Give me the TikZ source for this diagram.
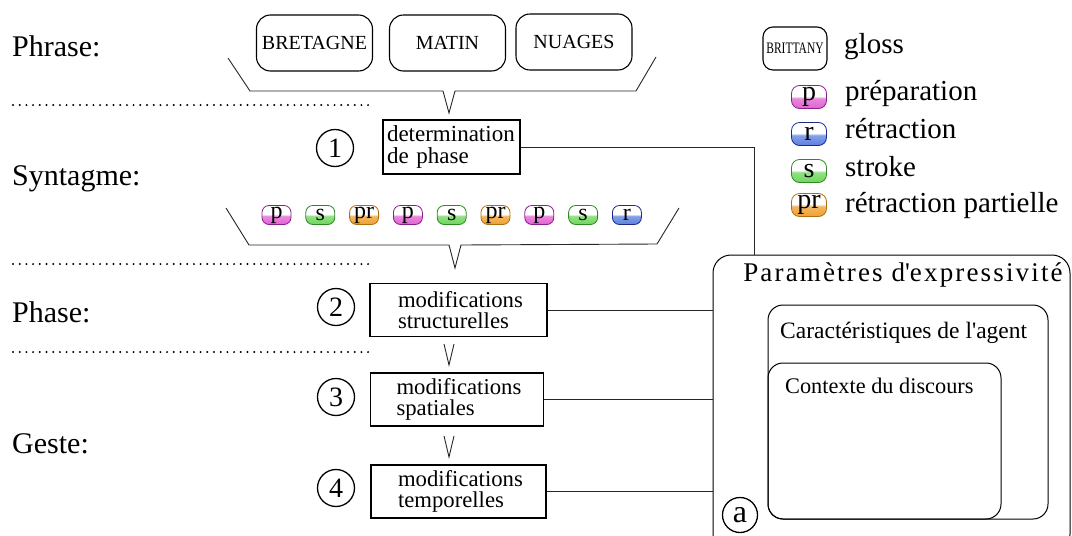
\documentclass[tikz,border=0pt]{standalone}
\usepackage{fontspec}
\setmainfont{Liberation Serif}
\usetikzlibrary{positioning}
\definecolor{prep}{HTML}{E262D2}
\definecolor{prepborder}{HTML}{8A1E8A}
\definecolor{retr}{HTML}{5C80E0}
\definecolor{retrborder}{HTML}{1E2A8A}
\definecolor{strk}{HTML}{6ED65C}
\definecolor{strkborder}{HTML}{2E8A22}
\definecolor{part}{HTML}{EEA030}
\definecolor{partborder}{HTML}{B06E10}
\pgfdeclareverticalshading{ombreprep}{100bp}{color(0bp)=(prep); color(25bp)=(prep); color(47bp)=(prep!75!white); color(52bp)=(white); color(100bp)=(white)}
\pgfdeclareverticalshading{ombreretr}{100bp}{color(0bp)=(retr); color(25bp)=(retr); color(47bp)=(retr!75!white); color(52bp)=(white); color(100bp)=(white)}
\pgfdeclareverticalshading{ombrestrk}{100bp}{color(0bp)=(strk); color(25bp)=(strk); color(47bp)=(strk!75!white); color(52bp)=(white); color(100bp)=(white)}
\pgfdeclareverticalshading{ombrepart}{100bp}{color(0bp)=(part); color(25bp)=(part); color(47bp)=(part!75!white); color(52bp)=(white); color(100bp)=(white)}

\begin{document}
\begin{tikzpicture}[
    x=1pt, y=-1pt,
    trait/.style={draw=black!85, line width=0.9pt},
    lbl/.style={font=\fontsize{30}{30}\selectfont, inner sep=0pt, anchor=base west},
    mot/.style={draw, rounded corners=14pt, line width=1.1pt, minimum width=116pt,
                minimum height=56pt, inner sep=0pt, font=\fontsize{20}{20}\selectfont},
    pill/.style={draw=#1border, shade, shading=ombre#1, rounded corners=7pt, line width=0.8pt,
                 minimum width=29pt, minimum height=19pt, inner sep=0pt,
                 font=\fontsize{24}{24}\selectfont},
    bigpill/.style={pill=#1, rounded corners=8pt, minimum width=35pt, minimum height=23pt,
                    font=\fontsize{28}{28}\selectfont},
    leg/.style={font=\fontsize{29}{29}\selectfont, inner sep=0pt, anchor=base west},
    etape/.style={draw, line width=1.1pt, inner sep=0pt, text width=121pt, align=left,
                  minimum height=53pt, font=\fontsize{22.7}{21.5}\selectfont},
    num/.style={draw, circle, line width=1.3pt, minimum size=37pt, inner sep=0pt,
                font=\fontsize{28}{28}\selectfont},
    cadre/.style={draw, line width=1pt, rounded corners=18pt},
    texte/.style={inner sep=0pt, anchor=base west, font=\fontsize{23.5}{23.5}\selectfont},
    pointilles/.style={line width=2.2pt, line cap=round, dash pattern=on 0pt off 6.7pt},
]
\useasboundingbox (0,0) rectangle (1072,536);
\clip (0,0) rectangle (1072,536);

\node[lbl] (phrase) at (12,56) {Phrase:};
\node[lbl] (syntagme) at (12,185) {Syntagme:};
\node[lbl] (phase) at (12,322) {Phase:};
\node[lbl] (geste) at (12,453) {Geste:};

\draw[pointilles] (13,105) -- (372,105);
\draw[pointilles] (13,264) -- (372,264);
\draw[pointilles] (13,352) -- (372,352);

\node[mot] (bretagne) at (314.5,43) {BRETAGNE};
\node[mot] (matin) at (447.5,43) {MATIN};
\node[mot] (nuages) at (574,42) {NUAGES};
\draw[trait] (228,58) -- (250,91) -- (443,91) -- (449,113) -- (455,91) -- (636,91) -- (656,57);

\node[num] (n1) at (335,148) {1};
\node[etape, text width=129pt, minimum width=137pt, minimum height=54pt,
      font=\fontsize{23}{22.5}\selectfont] (det) at (451.5,147) {determination\\de phase};

\node[pill=prep] (g1) at (276.5,215) {p};
\node[pill=strk, right=14pt of g1] (g2) {s};
\node[pill=part, right=14pt of g2] (g3) {pr};
\node[pill=prep, right=14pt of g3] (g4) {p};
\node[pill=strk, right=14pt of g4] (g5) {s};
\node[pill=part, right=14pt of g5] (g6) {pr};
\node[pill=prep, right=14pt of g6] (g7) {p};
\node[pill=strk, right=14pt of g7] (g8) {s};
\node[pill=retr, right=14pt of g8] (g9) {r};
\draw[trait] (226,208) -- (249,245) -- (449,245) -- (455,268) -- (461,245) -- (657,244) -- (679,208);

\node[num] (n2) at (336,307) {2};
\node[etape, minimum width=177pt] (mod2) at (458.5,310) {modifications\\structurelles};
\draw[trait] (444,344) -- (449,365) -- (454,344);
\node[num] (n3) at (336,397) {3};
\node[etape, minimum width=173pt] (mod3) at (457,399.5) {modifications\\spatiales};
\draw[trait] (444,436) -- (449,457) -- (454,436);
\node[num] (n4) at (336,488) {4};
\node[etape, minimum width=175pt] (mod4) at (458.5,491.5) {modifications\\temporelles};

\node[cadre, minimum width=357pt, minimum height=297pt] (param) at (891.5,403.5) {};
\node[inner sep=0pt, anchor=base, font=\fontsize{27}{27}\selectfont\addfontfeature{LetterSpace=8}]
     (titre) at (903,281) {Paramètres d\textquotesingle expressivité};
\node[cadre, rounded corners=15pt, minimum width=280pt, minimum height=214pt] (agent) at (908,412) {};
\node[texte] (tagent) at (780,338) {Caractéristiques de l\textquotesingle agent};
\node[cadre, rounded corners=15pt, minimum width=233pt, minimum height=156pt] (contexte) at (884.5,441) {};
\node[texte, font=\fontsize{22.3}{22.3}\selectfont] (tcontexte) at (785,393) {Contexte du discours};
\node[num, minimum size=35pt, font=\fontsize{32}{32}\selectfont] (na) at (740,515) {a};

\draw[trait] (det.east) -| ([xshift=42pt]param.north west);
\draw[trait] (mod2.east) -- (mod2.east -| param.west);
\draw[trait] (mod3.east) -- (mod3.east -| param.west);
\draw[trait] (mod4.east) -- (mod4.east -| param.west);

\node[mot, rounded corners=10pt, minimum width=64pt, minimum height=43pt,
      font=\fontsize{16}{16}\selectfont] (brittany) at (795,48.5) {\scalebox{0.72}[1]{BRITTANY}};
\node[leg] (gloss) at (844,53) {gloss};
\node[bigpill=prep] (lp) at (809,97) {p};
\node[leg] (tp) at (845,100) {préparation};
\node[bigpill=retr] (lr) at (809,134) {r};
\node[leg] (tr) at (845,138) {rétraction};
\node[bigpill=strk] (ls) at (809,171) {s};
\node[leg] (ts) at (845,176) {stroke};
\node[bigpill=part] (lpr) at (809,205) {pr};
\node[leg] (tpr) at (845,212) {rétraction partielle};
\end{tikzpicture}
\end{document}
